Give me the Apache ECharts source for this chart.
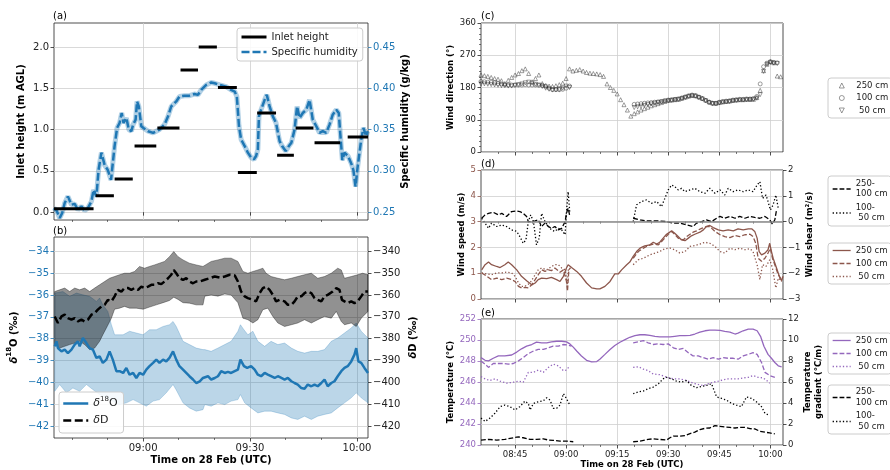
<!DOCTYPE html>
<html>
<head>
<meta charset="utf-8">
<title>Inlet height, isotopes and micrometeorology</title>
<script src="https://cdn.jsdelivr.net/npm/echarts@6.0.0/dist/echarts.min.js"></script>
<style>
  html, body { margin: 0; padding: 0; background: #fff; }
  #chart { width: 890px; height: 470px; }
</style>
</head>
<body>
<div id="chart"></div>
<script>
// time is minutes after 08:00 UTC on 28 Feb
const FONT = 'DejaVu Sans';
const BLUE = '#1f77b4', BROWN = '#8c564b', PURPLE = '#9467bd';
const GRID_LINE = '#cfcfcf';

// ---- (a) inlet height steps and specific humidity
const inletStart  = [35.0, 46.7, 52.0, 57.6, 64.0, 70.5, 75.6, 81.0, 86.6, 92.0, 97.6, 102.8, 108.1, 117.4];
const inletEnd    = [46.1, 51.8, 57.1, 63.7, 70.2, 75.4, 80.7, 86.3, 91.9, 97.3, 102.3, 107.8, 115.3, 123.1];
const inletHeight = [0.04, 0.20, 0.40, 0.80, 1.02, 1.72, 2.00, 1.51, 0.48, 1.20, 0.69, 1.02, 0.84, 0.91];

const qData = [
  [35.0,0.255],[35.7,0.252],[36.6,0.243],[37.3,0.249],[38.0,0.261],[38.9,0.269],[39.9,0.259],[40.8,0.260],
  [41.7,0.253],[42.7,0.257],[43.6,0.252],[44.5,0.255],[45.5,0.263],[46.1,0.277],[46.9,0.269],[47.5,0.301],
  [48.3,0.322],[49.2,0.307],[50.1,0.301],[51.0,0.289],[52.0,0.330],[52.7,0.352],[53.4,0.358],[54.0,0.370],
  [54.5,0.358],[55.3,0.364],[56.0,0.350],[56.7,0.348],[57.2,0.356],[57.9,0.362],[58.3,0.384],[58.8,0.378],
  [59.5,0.354],[60.1,0.352],[61.4,0.348],[62.8,0.346],[63.7,0.348],[64.6,0.350],[66.0,0.356],[67.0,0.366],
  [67.9,0.378],[69.3,0.384],[70.2,0.390],[71.6,0.391],[73.0,0.391],[74.4,0.393],[75.4,0.392],[76.3,0.398],
  [77.7,0.404],[79.1,0.407],[80.1,0.406],[81.5,0.404],[83.3,0.402],[84.7,0.398],[85.7,0.396],[86.3,0.390],
  [86.9,0.354],[87.5,0.338],[88.5,0.330],[89.4,0.322],[90.3,0.316],[91.1,0.314],[91.7,0.318],[92.2,0.326],
  [92.5,0.366],[93.1,0.374],[94.1,0.386],[94.7,0.392],[95.5,0.378],[96.4,0.366],[97.3,0.358],[98.3,0.336],
  [99.0,0.330],[100.0,0.324],[100.9,0.330],[101.6,0.334],[102.5,0.350],[103.2,0.378],[103.9,0.364],[104.8,0.370],
  [105.8,0.374],[106.7,0.386],[107.6,0.362],[108.6,0.354],[109.5,0.346],[110.4,0.348],[111.4,0.346],[112.3,0.356],
  [113.2,0.368],[114.2,0.374],[114.9,0.370],[115.3,0.346],[115.9,0.313],[116.5,0.322],[117.5,0.318],[118.4,0.309],
  [119.0,0.301],[119.6,0.281],[120.2,0.305],[121.2,0.338],[121.8,0.352],[122.6,0.342],[123.0,0.348]
];

// ---- (b) isotopes
const d18O = [
  [35.2,-38.35],[35.7,-38.12],[36.1,-38.43],[37.1,-38.58],[38.0,-38.50],[38.9,-38.66],[39.9,-38.50],[40.8,-38.27],
  [41.7,-38.12],[42.2,-38.35],[43.1,-37.97],[44.1,-38.20],[45.0,-38.43],[45.9,-38.50],[46.9,-38.88],[47.8,-38.81],
  [48.7,-39.11],[49.7,-38.96],[50.6,-38.58],[51.5,-38.96],[52.5,-39.49],[53.4,-39.49],[54.4,-39.57],[55.3,-39.34],
  [56.2,-39.65],[57.2,-39.57],[58.1,-39.80],[59.0,-39.57],[60.0,-39.65],[60.9,-39.42],[61.8,-39.26],[62.8,-39.11],
  [63.7,-38.96],[64.6,-39.11],[65.6,-38.96],[66.5,-39.04],[67.4,-38.88],[68.4,-38.58],[69.3,-38.96],[70.2,-39.26],
  [71.2,-39.42],[72.1,-39.57],[73.0,-39.72],[74.0,-39.87],[74.9,-40.03],[75.9,-39.95],[76.8,-39.80],[78.2,-39.72],
  [79.1,-39.87],[80.1,-39.80],[81.0,-39.72],[81.9,-39.49],[82.9,-39.57],[83.8,-39.52],[84.7,-39.57],[85.7,-39.49],
  [86.6,-39.42],[87.3,-38.96],[88.3,-39.26],[89.2,-39.34],[90.3,-39.26],[91.3,-39.42],[92.2,-39.65],[93.1,-39.72],
  [94.1,-39.57],[95.0,-39.65],[95.9,-39.72],[96.9,-39.80],[97.8,-39.72],[98.8,-39.80],[99.7,-39.87],[100.6,-39.80],
  [101.6,-39.95],[102.5,-40.03],[103.4,-40.10],[104.4,-40.26],[105.3,-40.29],[106.2,-40.10],[107.2,-40.18],[108.1,-40.10],
  [109.0,-40.18],[110.0,-40.03],[110.9,-39.87],[111.8,-40.18],[112.8,-40.03],[113.7,-39.95],[114.6,-39.72],[115.6,-39.49],
  [116.5,-39.34],[117.4,-39.26],[118.4,-39.04],[119.3,-38.73],[119.8,-38.43],[120.4,-39.04],[121.2,-39.11],[122.1,-39.34],
  [123.1,-39.57]
];
const d18OUpper = [
  [35.2,-35.91],[37.5,-35.84],[39.4,-36.06],[41.3,-35.91],[43.1,-35.99],[45.0,-36.06],[46.9,-36.29],[47.8,-36.14],
  [48.7,-36.45],[50.1,-36.75],[51.1,-37.36],[52.0,-37.82],[54.4,-37.82],[56.2,-37.66],[58.1,-37.74],[60.0,-37.82],
  [61.8,-37.59],[63.7,-37.59],[65.6,-37.44],[67.4,-37.36],[68.4,-37.21],[69.3,-37.44],[71.2,-38.12],[73.0,-38.27],
  [74.9,-38.43],[76.8,-38.50],[77.3,-38.50],[79.1,-38.58],[81.0,-38.43],[82.9,-38.27],[84.7,-38.12],[86.6,-37.66],
  [87.3,-37.36],[88.3,-37.59],[89.4,-37.82],[90.8,-37.66],[92.2,-38.12],[94.1,-38.35],[95.9,-38.12],[97.8,-38.27],
  [99.7,-38.20],[101.6,-38.43],[103.4,-38.58],[105.3,-38.66],[107.2,-38.58],[109.0,-38.58],[110.9,-38.50],[112.8,-38.12],
  [114.6,-37.97],[116.5,-37.74],[118.4,-37.51],[119.8,-37.28],[121.2,-37.66],[123.1,-37.97]
];
const d18OLower = [
  [35.2,-40.41],[36.6,-40.10],[38.5,-40.48],[40.3,-40.26],[42.2,-40.41],[44.1,-40.10],[45.9,-40.33],[47.8,-40.56],
  [49.7,-40.71],[51.5,-40.86],[53.4,-41.02],[55.3,-40.94],[57.2,-40.79],[59.0,-40.94],[60.9,-41.09],[62.8,-40.86],
  [64.6,-40.79],[66.5,-40.48],[68.4,-40.10],[69.3,-40.35],[71.2,-40.94],[73.0,-41.17],[74.9,-41.32],[76.8,-41.25],
  [77.3,-41.02],[79.1,-41.09],[81.0,-40.94],[82.9,-41.02],[84.7,-40.86],[86.6,-40.79],[87.3,-40.56],[88.5,-40.94],
  [90.3,-41.17],[92.2,-41.40],[94.1,-41.32],[95.9,-41.32],[97.8,-41.40],[99.7,-41.47],[101.6,-41.63],[103.4,-41.70],
  [105.3,-41.55],[107.2,-41.70],[109.0,-41.55],[110.9,-41.47],[112.8,-41.40],[114.6,-41.17],[116.5,-40.94],[118.4,-40.71],
  [119.8,-40.48],[121.2,-40.71],[123.1,-40.94]
];
const dD = [
  [35.2,-369.8],[36.1,-372.8],[37.1,-369.8],[38.0,-369.0],[38.9,-370.6],[39.9,-371.3],[40.8,-370.6],[41.7,-372.1],
  [42.7,-371.3],[43.6,-372.1],[44.5,-371.3],[45.5,-369.0],[46.4,-368.3],[47.3,-366.7],[48.3,-365.2],[49.2,-364.5],
  [50.1,-362.2],[51.1,-362.9],[52.0,-360.6],[52.9,-357.6],[53.9,-358.4],[54.8,-356.8],[55.8,-356.8],[56.7,-357.6],
  [57.6,-356.8],[58.6,-357.6],[59.5,-356.1],[60.4,-356.8],[61.4,-356.1],[62.3,-355.3],[63.2,-355.3],[64.2,-354.6],
  [65.1,-355.0],[66.0,-353.8],[67.0,-352.3],[67.9,-350.7],[68.6,-348.5],[69.3,-350.0],[70.2,-352.3],[71.2,-353.0],
  [72.1,-352.3],[73.0,-353.8],[74.0,-354.6],[74.9,-353.8],[75.9,-353.8],[77.3,-353.0],[78.7,-352.3],[80.1,-351.5],
  [81.5,-352.0],[82.9,-351.5],[84.3,-350.7],[85.7,-351.0],[86.6,-353.8],[87.5,-358.4],[88.5,-360.6],[89.4,-361.4],
  [90.8,-362.2],[91.7,-362.9],[92.7,-359.1],[93.6,-356.8],[94.5,-356.1],[95.5,-357.6],[96.4,-359.9],[97.3,-362.9],
  [98.3,-362.2],[99.7,-362.9],[100.6,-364.5],[101.6,-364.5],[102.5,-362.9],[103.4,-360.6],[104.4,-360.6],[105.3,-359.1],
  [106.2,-358.4],[107.2,-359.1],[108.1,-361.4],[109.0,-362.2],[110.0,-362.9],[110.9,-360.6],[111.8,-359.9],[113.2,-358.4],
  [114.2,-356.8],[115.1,-357.6],[115.8,-362.2],[116.5,-362.9],[117.4,-363.7],[118.4,-362.9],[119.3,-363.7],[120.2,-362.9],
  [121.2,-360.6],[122.1,-358.4],[123.1,-358.4]
];
const dDUpper = [
  [35.2,-358.4],[36.6,-357.6],[38.0,-356.8],[39.4,-358.4],[40.8,-356.8],[42.2,-357.6],[43.6,-356.8],[45.0,-358.4],
  [46.4,-356.8],[47.8,-355.3],[49.2,-353.8],[50.6,-352.3],[52.0,-351.5],[53.4,-350.7],[54.8,-350.0],[56.2,-350.0],
  [57.6,-349.2],[59.0,-346.9],[60.4,-347.7],[61.8,-346.9],[63.2,-346.2],[64.6,-345.4],[66.0,-344.6],[67.4,-342.4],
  [68.6,-340.1],[69.8,-342.4],[71.2,-343.9],[73.0,-345.4],[74.9,-346.2],[76.8,-346.9],[79.1,-344.6],[81.0,-343.9],
  [82.9,-343.1],[84.7,-343.1],[86.6,-344.6],[88.0,-349.2],[89.4,-350.0],[90.8,-349.2],[92.2,-348.5],[93.6,-347.7],
  [94.5,-350.0],[95.9,-351.5],[97.8,-352.3],[99.7,-353.0],[101.6,-352.3],[103.4,-351.5],[105.3,-350.7],[107.2,-350.0],
  [109.0,-352.3],[110.9,-351.5],[112.8,-350.0],[114.6,-347.7],[115.6,-348.5],[116.5,-352.3],[118.4,-351.5],[120.2,-350.7],
  [121.6,-350.0],[123.1,-350.7]
];
const dDLower = [
  [35.2,-382.7],[36.6,-384.3],[38.0,-383.5],[39.4,-382.7],[40.8,-382.0],[42.2,-381.2],[43.6,-382.7],[45.0,-385.0],
  [46.4,-384.3],[47.8,-381.2],[48.7,-378.2],[49.7,-375.1],[51.1,-370.6],[52.0,-366.5],[53.4,-366.0],[54.8,-365.2],
  [56.2,-366.0],[58.1,-366.0],[60.0,-366.5],[61.8,-365.5],[63.7,-364.5],[65.6,-363.5],[67.4,-362.5],[68.6,-361.0],
  [69.8,-362.0],[71.2,-363.5],[73.0,-363.7],[74.9,-364.5],[76.8,-364.5],[77.3,-360.5],[79.1,-360.0],[81.0,-360.5],
  [82.9,-359.5],[84.7,-360.0],[86.6,-363.5],[88.0,-370.6],[89.4,-371.3],[90.8,-372.8],[92.2,-371.3],[93.6,-366.7],
  [95.0,-366.0],[96.4,-369.8],[97.8,-372.8],[99.7,-374.4],[101.6,-373.6],[103.4,-372.8],[105.3,-371.3],[107.2,-372.8],
  [109.0,-371.3],[110.9,-369.8],[112.8,-370.6],[114.2,-367.5],[115.6,-372.1],[116.5,-373.6],[118.4,-372.8],[119.8,-374.4],
  [121.2,-370.6],[123.1,-367.5]
];

// ---- (c) wind direction, one value per minute from 08:35
const dirTimes = [
  35,36,37,38,39,40,41,42,43,44, 45,46,47,48,49,50,51,52,53,54, 55,56,57,58,59,60,61,62,63,64,
  65,66,67,68,69,70,71,72,73,74, 75,76,77,78,79,80,81,82,83,84, 85,86,87,88,89,90,91,92,93,94,
  95,96,97,98,99,100,101,102,103,104, 105,106,107,108,109,110,111,112,113,114, 115,116,117,118,119,120,121,122,123
];
const dir250 = [
  215,213,211,208,205,203,199,191,200,208, 215,219,227,232,219,196,205,215,191,185, 184,183,185,188,192,205,232,226,228,230,
  226,222,220,219,218,216,211,190,180,172, 162,146,132,117,100,107,112,117,121,125, 129,132,135,138,141,144,145,146,147,150,
  153,156,158,157,154,150,145,140,137,136, 138,140,141,142,144,145,146,146,147,147, 147,152,172,227,245,252,249,212,210
];
const dir100 = [
  197,196,195,194,193,191,190,188,187,187, 187,187,187,188,187,187,187,186,186,184, 178,174,174,174,175,178,184,null,null,null,
  null,null,null,null,null,null,null,null,null,null, null,null,null,null,null,133,134,135,136,137, 138,139,140,141,143,145,146,147,148,151,
  154,157,159,157,153,149,144,139,136,136, 139,141,142,143,145,146,147,147,148,148, 149,155,190,238,248,252,250,249,null
];
const dir50 = [
  190,190,189,188,187,186,185,185,184,184, 186,188,190,193,195,192,189,187,183,178, 175,173,173,174,178,184,180,null,null,null,
  null,null,null,null,null,null,null,null,null,null, null,null,null,null,null,124,126,128,130,132, 134,136,138,140,142,143,144,146,147,149,
  152,155,157,156,152,148,143,138,135,135, 137,139,140,141,143,144,145,145,146,146, 147,150,160,225,245,250,248,247,null
];

// ---- (d) wind speed (m/s) and wind shear (m2/s); null marks the data gap
const ws250 = [
  [35.2,1.13],[36.2,1.33],[37.2,1.43],[38.1,1.33],[39.6,1.26],[40.6,1.22],[42.0,1.33],[43.0,1.43],[44.0,1.33],[45.5,1.13],
  [46.9,0.88],[48.4,0.71],[49.9,0.55],[50.9,0.62],[51.8,0.75],[52.8,0.81],[54.3,0.79],[55.7,0.84],[57.2,0.75],[58.2,0.68],
  [59.2,0.88],[60.1,1.20],[60.6,1.33],[61.6,1.22],[63.1,1.07],[64.5,0.88],[66.0,0.62],[67.5,0.43],[69.0,0.39],[69.9,0.39],
  [71.4,0.49],[72.9,0.68],[74.3,0.97],[75.3,0.97],[76.3,1.13],[77.8,1.33],[78.7,1.43],[79.7,1.65],[80.7,1.84],[81.7,1.97],
  [83.1,2.06],[84.6,2.10],[85.6,2.20],[86.6,2.13],[87.5,2.20],[88.5,2.36],[89.5,2.51],[91.0,2.64],[91.9,2.55],[92.9,2.42],
  [93.9,2.29],[94.9,2.26],[95.9,2.36],[96.8,2.45],[97.8,2.51],[99.3,2.59],[100.3,2.68],[101.2,2.81],[102.2,2.85],[103.2,2.77],
  [104.7,2.68],[106.1,2.64],[107.6,2.68],[109.1,2.64],[110.5,2.72],[112.0,2.68],[113.5,2.72],[114.5,2.72],[115.4,2.62],[116.1,2.36],
  [116.7,1.84],[117.4,1.71],[118.4,1.78],[119.3,1.91],[119.8,2.16],[120.3,1.84],[120.8,1.58],[121.8,1.20],[122.8,0.81],[123.3,0.71],
  [123.7,0.88]
];
const ws100 = [
  [35.2,1.01],[36.7,0.88],[38.1,0.75],[39.6,0.81],[41.1,0.75],[42.5,0.81],[44.0,0.75],[45.0,0.68],[46.0,0.49],[46.9,0.43],
  [47.9,0.45],[48.9,0.43],[49.9,0.55],[50.9,0.75],[51.8,0.94],[52.8,1.13],[53.8,1.07],[54.8,1.13],[55.7,1.10],[56.7,1.20],
  [57.2,1.13],[58.2,1.04],[59.2,1.13],[60.1,0.68],[60.4,0.30],[60.8,1.13],[61.3,1.22],[70,null],
  [79.7,1.58],[81.2,1.84],[82.7,1.97],[84.1,2.07],[85.6,2.13],[87.1,2.10],[88.5,2.29],[90.0,2.51],[91.0,2.62],[91.9,2.51],
  [92.9,2.36],[94.4,2.29],[95.4,2.42],[96.4,2.51],[97.3,2.59],[98.3,2.64],[99.8,2.74],[101.2,2.81],[102.2,2.81],[103.7,2.62],
  [105.2,2.49],[106.6,2.42],[108.1,2.38],[109.6,2.46],[111.0,2.42],[112.5,2.49],[114.0,2.51],[114.9,2.42],[115.7,2.16],[116.4,1.58],
  [117.4,1.46],[118.4,1.58],[119.3,1.78],[120.0,1.97],[120.6,1.58],[121.3,1.33],[122.3,0.94],[123.3,0.75]
];
const ws50 = [
  [35.2,1.01],[36.7,0.97],[38.1,0.94],[39.6,1.01],[41.1,1.01],[42.5,1.04],[44.0,1.01],[45.0,0.88],[46.0,0.62],[46.9,0.49],
  [47.9,0.49],[49.4,0.62],[50.9,0.94],[51.8,1.13],[52.8,1.20],[54.3,1.13],[55.7,1.26],[56.7,1.33],[57.7,1.33],[58.7,1.20],
  [59.7,1.13],[60.3,0.55],[60.7,1.20],[70,null],
  [79.7,1.33],[81.2,1.52],[82.7,1.58],[84.6,1.71],[86.1,1.78],[87.5,1.84],[89.0,1.95],[90.5,1.97],[91.9,1.91],[93.4,1.78],
  [94.9,1.84],[96.4,2.04],[97.8,2.07],[99.3,2.13],[100.8,2.20],[102.2,2.16],[103.7,2.04],[105.2,1.84],[106.6,1.78],[108.1,1.97],
  [109.6,1.91],[111.0,1.97],[112.5,1.91],[114.0,1.95],[114.9,1.84],[116.1,1.33],[116.9,0.75],[117.7,1.33],[118.7,1.26],[119.8,1.52],
  [120.6,1.20],[121.6,0.43],[122.3,0.81],[123.3,0.68]
];
const shear250to100 = [
  [35.2,0.13],[36.2,0.26],[37.2,0.32],[38.6,0.36],[40.1,0.26],[41.1,0.32],[42.5,0.20],[44.0,0.39],[45.5,0.41],[46.4,0.39],
  [47.4,0.32],[48.4,0.20],[48.9,0.00],[49.9,0.00],[50.9,0.03],[51.8,0.07],[52.8,-0.19],[53.8,-0.06],[54.8,-0.19],[55.7,-0.26],
  [56.7,-0.19],[57.7,-0.32],[58.7,-0.26],[59.7,0.00],[60.1,0.32],[60.6,0.52],[61.1,0.20],[70,null],
  [79.7,0.13],[81.7,0.07],[83.6,0.03],[86.6,0.03],[89.5,0.00],[91.5,-0.06],[93.4,-0.06],[95.4,-0.13],[97.3,-0.19],[98.3,-0.06],
  [99.8,0.00],[101.2,0.07],[102.7,0.00],[104.2,0.13],[105.2,0.20],[106.6,0.13],[108.1,0.20],[109.6,0.13],[111.0,0.20],[112.5,0.13],
  [114.0,0.20],[115.4,0.16],[116.9,0.13],[118.4,0.20],[119.8,0.07],[120.6,-0.10],[121.3,0.07],[121.8,0.45]
];
const shear100to50 = [
  [35.2,0.13],[36.2,-0.06],[37.2,-0.26],[38.1,-0.06],[39.6,-0.19],[41.1,-0.13],[42.5,-0.19],[44.0,-0.32],[45.5,-0.38],[46.4,-0.58],
  [47.4,-0.84],[48.2,-0.71],[48.9,0.00],[49.6,0.26],[50.4,0.00],[51.3,-0.90],[52.1,-0.64],[52.8,0.32],[53.8,0.00],[54.8,-0.19],
  [55.7,-0.32],[56.7,-0.38],[57.7,-0.26],[58.7,-0.32],[59.7,-0.51],[60.1,0.39],[60.6,1.16],[61.1,0.32],[70,null],
  [79.7,0.00],[80.7,0.65],[82.2,0.78],[83.6,0.84],[85.1,0.71],[86.6,0.78],[88.0,0.58],[89.0,0.90],[90.0,1.23],[91.0,1.42],
  [91.9,1.36],[92.9,1.23],[93.9,1.29],[94.9,1.16],[96.4,1.23],[97.8,1.29],[99.3,1.16],[100.8,1.10],[102.2,1.29],[103.7,1.10],
  [105.2,1.23],[106.6,1.03],[107.6,1.29],[109.1,1.16],[110.5,1.23],[112.0,1.16],[113.5,1.23],[114.9,1.16],[116.1,1.42],[116.9,1.55],
  [117.7,0.90],[118.7,1.03],[119.3,0.78],[120.0,0.45],[120.8,0.65],[121.6,1.03],[122.3,0.52]
];

// ---- (e) temperature and temperature gradient
const t250 = [
  [35.0,248.32],[36.2,248.07],[37.2,248.01],[38.6,248.26],[40.1,248.48],[42.0,248.48],[44.0,248.57],[45.5,248.85],[46.9,249.16],[48.4,249.41],
  [49.9,249.57],[51.3,249.79],[52.8,249.73],[54.3,249.73],[55.7,249.82],[57.2,249.88],[58.7,249.88],[60.1,249.82],[61.1,249.63],[62.1,249.32],
  [63.1,248.95],[64.5,248.48],[66.0,248.07],[67.5,247.92],[69.0,247.95],[69.9,248.17],[71.4,248.63],[72.9,249.10],[74.3,249.48],[75.8,249.79],
  [77.3,250.04],[78.7,250.26],[80.2,250.41],[81.7,250.50],[83.1,250.50],[84.6,250.44],[86.1,250.35],[87.5,250.29],[89.0,250.29],[90.5,250.29],
  [91.9,250.35],[93.4,250.41],[94.9,250.41],[96.4,250.44],[97.8,250.57],[99.3,250.75],[100.8,250.88],[102.2,250.94],[103.7,250.94],[105.2,250.91],
  [106.6,250.82],[108.1,250.75],[109.6,250.57],[110.5,250.66],[112.0,250.88],[113.5,251.03],[114.9,251.03],[116.1,250.88],[117.1,250.35],[118.1,249.41],
  [119.3,248.63],[120.3,248.26],[121.3,247.86],[122.3,247.54],[123.3,247.45]
];
const t100 = [
  [35.0,248.01],[36.2,247.70],[37.2,247.39],[38.6,247.76],[40.1,247.76],[41.6,247.76],[43.0,247.70],[44.5,247.76],[46.0,248.01],[47.4,248.32],
  [48.9,248.70],[50.4,248.95],[51.8,249.10],[53.3,249.10],[54.8,249.26],[56.2,249.41],[57.7,249.41],[59.2,249.57],[60.6,249.51],[61.6,249.41],[70,null],
  [79.7,249.73],[81.2,249.82],[82.7,249.94],[84.1,249.73],[85.6,249.57],[87.1,249.63],[88.5,249.57],[90.0,249.63],[91.5,249.26],[92.9,249.10],
  [94.4,249.20],[95.9,248.79],[97.3,248.48],[98.8,248.48],[100.3,248.32],[101.7,248.17],[103.2,248.32],[104.7,248.17],[106.1,248.32],[107.6,248.26],
  [109.1,248.26],[110.5,248.17],[112.0,248.48],[113.5,248.63],[114.9,248.79],[116.1,248.63],[117.4,247.86],[118.4,246.92],[119.8,246.61],[121.3,246.45]
];
const t50 = [
  [35.0,246.51],[36.2,246.30],[37.6,246.14],[39.1,246.30],[40.6,246.08],[42.5,245.89],[44.5,245.98],[46.0,246.08],[47.4,245.98],[48.9,246.92],
  [50.4,246.92],[51.8,247.14],[53.3,246.92],[54.8,247.39],[56.2,247.70],[57.7,247.54],[59.2,247.08],[60.1,247.14],[61.1,247.54],[70,null],
  [79.7,247.39],[81.2,247.45],[82.7,247.23],[84.1,247.08],[85.6,246.76],[87.5,246.70],[89.5,246.45],[91.5,246.30],[93.4,246.30],[95.4,246.14],
  [97.3,245.89],[98.8,245.77],[100.3,245.67],[101.7,245.83],[103.2,245.98],[104.7,246.08],[106.1,246.20],[107.6,246.30],[109.1,246.30],[110.5,246.30],
  [112.0,246.39],[113.5,246.45],[114.9,246.61],[116.4,246.45],[117.9,246.39],[118.9,246.14],[119.8,245.89]
];
const grad250to100 = [
  [35.0,0.47],[37.2,0.53],[39.6,0.47],[42.0,0.53],[44.5,0.69],[46.0,0.78],[47.4,0.69],[49.4,0.53],[51.3,0.53],[53.3,0.59],
  [54.8,0.47],[56.2,0.44],[58.2,0.37],[60.1,0.37],[62.1,0.31],[70,null],
  [79.7,0.31],[81.7,0.37],[84.1,0.53],[85.6,0.59],[87.5,0.53],[89.5,0.47],[90.5,0.69],[91.5,0.84],[93.4,0.84],[94.9,0.90],
  [96.4,1.09],[97.8,1.22],[99.3,1.47],[100.8,1.59],[102.2,1.62],[103.7,1.84],[105.2,1.78],[106.6,1.71],[108.1,1.68],[109.6,1.62],
  [111.0,1.68],[112.5,1.68],[114.0,1.56],[115.4,1.53],[116.9,1.31],[118.4,1.22],[119.8,1.15],[121.3,1.06]
];
const grad100to50 = [
  [35.0,2.56],[36.2,2.24],[37.6,2.56],[39.1,3.02],[40.6,3.65],[42.0,3.80],[43.5,3.65],[45.0,3.34],[46.4,3.65],[47.9,4.18],
  [48.9,3.96],[49.4,3.34],[50.4,3.96],[51.8,4.11],[53.3,4.21],[54.3,4.49],[55.3,4.27],[56.2,3.49],[57.2,3.49],[58.2,3.80],
  [59.2,4.89],[60.1,4.43],[61.1,3.80],[70,null],
  [79.7,4.89],[81.2,5.05],[82.7,5.14],[84.1,5.36],[85.6,5.52],[87.1,5.83],[88.5,6.30],[89.5,6.45],[91.0,6.30],[92.4,6.08],
  [93.9,5.99],[95.4,6.14],[96.8,5.67],[98.3,5.46],[99.8,5.58],[101.2,5.67],[102.7,5.83],[104.2,4.58],[105.7,4.43],[107.1,4.27],
  [108.6,3.96],[110.0,3.80],[111.5,3.65],[113.0,4.58],[114.5,4.43],[115.9,4.11],[117.4,3.65],[118.4,3.02],[119.3,2.87]
];

// ---- tick positions (minutes after 08:00)
const leftMajor = [60, 90, 120];
const leftMinor = [40, 50, 70, 80, 100, 110];
const rightMajor = [45, 60, 75, 90, 105, 120];
const rightMinor = [40, 50, 55, 65, 70, 80, 85, 95, 100, 110, 115];

const legendText = {
  inlet: 'Inlet height', q: 'Specific humidity',
  d18O: '{i|δ}{s|18}{t|O}', dD: '{i|δ}{t|D}',
  c250: '250 cm', c100: '100 cm', c50: ' 50 cm',
  d250: '250 cm', d100: '100 cm', d50: ' 50 cm',
  e250: '250 cm', e100: '100 cm', e50: ' 50 cm',
  dS1: '250-\n100 cm', dS2: '100-\n 50 cm',
  eG1: '250-\n100 cm', eG2: '100-\n 50 cm'
};

function hhmm(m) {
  const h = 8 + Math.floor(m / 60), mm = Math.round(m % 60);
  return (h < 10 ? '0' : '') + h + ':' + (mm < 10 ? '0' : '') + mm;
}
function signed(v, d) {
  const s = Math.abs(v).toFixed(d);
  return v < 0 ? '\u2212' + s : s;
}
function gaps(arr) {
  return arr.map(p => p[1] === null ? [p[0], '-'] : p);
}

const inletData = [];
inletHeight.forEach((h, i) => {
  inletData.push([inletStart[i], h], [inletEnd[i], h], [inletEnd[i], '-']);
});

function xMain(grid, max, major, showLabels, fs, name, nameGap) {
  return {
    type: 'value', gridIndex: grid, min: 35, max: max, position: 'bottom',
    axisLine: { show: false },
    axisTick: { show: true, customValues: major, length: 3.5, lineStyle: { color: '#222', width: 0.8 } },
    axisLabel: { show: showLabels, customValues: major, formatter: hhmm, color: '#222', fontSize: fs, fontFamily: FONT, margin: 5 },
    splitLine: { show: true, lineStyle: { color: GRID_LINE, width: 0.8 } },
    name: name || '', nameLocation: 'middle', nameGap: nameGap || 0,
    nameTextStyle: { fontFamily: FONT, fontWeight: 'bold', fontSize: fs, color: '#000' }
  };
}
function xMinor(grid, max, minor) {
  return {
    type: 'value', gridIndex: grid, min: 35, max: max, position: 'bottom',
    axisLine: { show: false },
    axisTick: { show: true, customValues: minor, length: 2, lineStyle: { color: '#222', width: 0.6 } },
    axisLabel: { show: false }, splitLine: { show: false }
  };
}
function yAxis(o) {
  const color = o.color || '#222';
  return {
    type: 'value', gridIndex: o.grid, position: o.pos, min: o.min, max: o.max, interval: o.interval,
    axisLine: { show: false },
    axisTick: { show: true, customValues: o.ticks, length: 3.5, lineStyle: { color: color, width: 0.8 } },
    minorTick: o.minor ? { show: true, splitNumber: o.minor, length: 2, lineStyle: { color: '#222', width: 0.6 } } : { show: false },
    axisLabel: { customValues: o.ticks, formatter: o.fmt, color: color, fontSize: o.fs, fontFamily: FONT, margin: 5 },
    splitLine: { show: !!o.split, lineStyle: { color: GRID_LINE, width: 0.8 } },
    name: o.name, nameLocation: 'middle', nameGap: o.gap,
    nameTextStyle: Object.assign({ fontFamily: FONT, fontWeight: 'bold', fontSize: o.fs, color: '#000', lineHeight: o.fs + 2 }, o.nameStyle || {})
  };
}
function line(name, x, y, data, color, width, type, z) {
  return {
    name: name, type: 'line', xAxisIndex: x, yAxisIndex: y, data: data,
    symbol: 'none', connectNulls: false, z: z || 3, silent: true,
    lineStyle: { color: color, width: width, type: type || 'solid' }, itemStyle: { color: color }
  };
}
function scatter(name, symbol, values) {
  const data = [];
  dirTimes.forEach((t, i) => { if (values[i] !== null) data.push([t, values[i]]); });
  return {
    name: name, type: 'scatter', xAxisIndex: 2, yAxisIndex: 4, data: data, symbol: symbol, symbolSize: 4, silent: true,
    itemStyle: { color: 'rgba(255,255,255,0)', borderColor: '#333', borderWidth: 0.6 }
  };
}
function band(upper, lower, x, y, fill, z) {
  return {
    type: 'custom', xAxisIndex: x, yAxisIndex: y, silent: true, z: z,
    data: [upper[0]],
    renderItem: function (params, api) {
      if (params.dataIndex !== 0) return;
      const pts = upper.map(p => api.coord(p)).concat(lower.slice().reverse().map(p => api.coord(p)));
      return { type: 'polygon', shape: { points: pts }, style: { fill: fill, stroke: fill, lineWidth: 0.8 } };
    }
  };
}
function legendBox(names, left, top, extra) {
  return Object.assign({
    data: names, left: left, top: top, orient: 'vertical', selectedMode: false,
    backgroundColor: 'rgba(255,255,255,0.85)', borderColor: '#cccccc', borderWidth: 1, borderRadius: 3,
    padding: [2, 4, 2, 4], itemGap: 2, itemWidth: 18, itemHeight: 6,
    formatter: n => legendText[n],
    lineStyle: { width: 1.3 },
    itemStyle: { opacity: 0 },
    textStyle: { fontFamily: FONT, fontSize: 8.5, color: '#222', lineHeight: 11 }
  }, extra || {});
}

const chart = echarts.init(document.getElementById('chart'), null, { renderer: 'canvas' });

chart.setOption({
  animation: false,
  backgroundColor: '#ffffff',
  textStyle: { fontFamily: FONT },
  title: [
    { text: '(a)', left: 53, top: 11 },
    { text: '(b)', left: 53, top: 226 },
    { text: '(c)', left: 481, top: 11 },
    { text: '(d)', left: 481, top: 159 },
    { text: '(e)', left: 481, top: 308 }
  ].map(t => Object.assign(t, { padding: 0, textStyle: { fontFamily: FONT, fontSize: 10, fontWeight: 'normal', color: '#000' } })),
  grid: [
    { left: 54, top: 23, width: 314, height: 197 },
    { left: 54, top: 237, width: 314, height: 201 },
    { left: 481, top: 23, width: 302, height: 129 },
    { left: 481, top: 170, width: 302, height: 129 },
    { left: 481, top: 319, width: 302, height: 128 }
  ].map(g => Object.assign(g, { show: true, borderColor: '#222', borderWidth: 0.8, backgroundColor: 'transparent' })),
  legend: [
    legendBox([{ name: 'inlet', lineStyle: { width: 3 } }, { name: 'q', lineStyle: { width: 2.5 } }], 237, 28, {
      padding: [3, 5, 3, 3], itemGap: 3, itemWidth: 25, itemHeight: 8, lineStyle: {},
      textStyle: { fontFamily: FONT, fontSize: 10, color: '#222', lineHeight: 12 }
    }),
    legendBox([{ name: 'd18O', lineStyle: { width: 2.5 } }, { name: 'dD', lineStyle: { width: 2.5 } }], 59, 392, {
      padding: [4, 6, 5, 3], itemGap: 2, itemWidth: 25, itemHeight: 8, lineStyle: {},
      textStyle: {
        fontFamily: FONT, fontSize: 11, color: '#222', lineHeight: 15,
        rich: {
          i: { fontFamily: FONT, fontSize: 11, fontStyle: 'italic', lineHeight: 15, color: '#222' },
          s: { fontFamily: FONT, fontSize: 7, lineHeight: 8, verticalAlign: 'top', color: '#222' },
          t: { fontFamily: FONT, fontSize: 11, lineHeight: 15, color: '#222' }
        }
      }
    }),
    legendBox(['c250', 'c100', 'c50'], 828, 78, {
      padding: [2, 4, 2, 11], itemGap: 1.5, itemWidth: 5, itemHeight: 5,
      itemStyle: { borderWidth: 0.6, borderColor: '#555', opacity: 1 },
      textStyle: { fontFamily: FONT, fontSize: 8.5, color: '#222', lineHeight: 11, padding: [0, 0, 0, 7] }
    }),
    legendBox(['dS1', 'dS2'], 828, 176, {
      padding: [3, 4, 3, 4], itemGap: 4,
      textStyle: { fontFamily: FONT, fontSize: 8.5, color: '#222', lineHeight: 10 }
    }),
    legendBox(['d250', 'd100', 'd50'], 828, 243),
    legendBox(['e250', 'e100', 'e50'], 828, 333),
    legendBox(['eG1', 'eG2'], 828, 385, {
      padding: [2, 4, 2, 4], itemGap: 3,
      textStyle: { fontFamily: FONT, fontSize: 8.5, color: '#222', lineHeight: 10.5 }
    })
  ],
  xAxis: [
    xMain(0, 123.1, leftMajor, false, 10),
    xMain(1, 123.1, leftMajor, true, 10, 'Time on 28 Feb (UTC)', 17),
    xMain(2, 123.7, rightMajor, false, 8.5),
    xMain(3, 123.7, rightMajor, false, 8.5),
    xMain(4, 123.7, rightMajor, true, 8.5, 'Time on 28 Feb (UTC)', 15),
    xMinor(0, 123.1, leftMinor),
    xMinor(1, 123.1, leftMinor),
    xMinor(2, 123.7, rightMinor),
    xMinor(3, 123.7, rightMinor),
    xMinor(4, 123.7, rightMinor)
  ],
  yAxis: [
    yAxis({ grid: 0, pos: 'left', min: -0.095, max: 2.29, ticks: [0, 0.5, 1, 1.5, 2], fmt: v => v.toFixed(1), fs: 10,
            split: true, name: 'Inlet height (m AGL)', gap: 27 }),
    yAxis({ grid: 0, pos: 'right', min: 0.2405, max: 0.479, ticks: [0.25, 0.3, 0.35, 0.4, 0.45], fmt: v => v.toFixed(2), fs: 10,
            color: BLUE, name: 'Specific humidity (g/kg)', gap: 31 }),
    yAxis({ grid: 1, pos: 'left', min: -42.55, max: -33.34, ticks: [-42, -41, -40, -39, -38, -37, -36, -35, -34], fmt: v => signed(v, 0), fs: 10,
            color: BLUE, split: true, name: '{i|δ}{s|18}{b|O (‰)}', gap: 32,
            nameStyle: { rich: {
              i: { fontFamily: FONT, fontSize: 10, fontStyle: 'italic', lineHeight: 16, color: '#000' },
              s: { fontFamily: FONT, fontSize: 7, lineHeight: 8, verticalAlign: 'top', color: '#000' },
              b: { fontFamily: FONT, fontSize: 10, fontWeight: 'bold', lineHeight: 16, color: '#000' }
            } } }),
    yAxis({ grid: 1, pos: 'right', min: -425.5, max: -333.4, ticks: [-420, -410, -400, -390, -380, -370, -360, -350, -340], fmt: v => signed(v, 0), fs: 10,
            name: '{i|δ}{b|D (‰)}', gap: 39,
            nameStyle: { rich: {
              i: { fontFamily: FONT, fontSize: 10, fontStyle: 'italic', color: '#000' },
              b: { fontFamily: FONT, fontSize: 10, fontWeight: 'bold', color: '#000' }
            } } }),
    yAxis({ grid: 2, pos: 'left', min: 0, max: 360, interval: 90, fmt: v => String(v), fs: 8.5, minor: 6,
            split: true, name: 'Wind direction (°)', gap: 25 }),
    yAxis({ grid: 3, pos: 'left', min: 0, max: 5, interval: 1, fmt: v => String(v), fs: 8.5,
            color: BROWN, split: true, name: 'Wind speed (m/s)', gap: 13 }),
    yAxis({ grid: 3, pos: 'right', min: -3, max: 2, interval: 1, fmt: v => signed(v, 0), fs: 8.5,
            name: 'Wind shear (m²/s)', gap: 22 }),
    yAxis({ grid: 4, pos: 'left', min: 240, max: 252, interval: 2, fmt: v => String(v), fs: 8.5,
            color: PURPLE, split: true, name: 'Temperature (°C)', gap: 25 }),
    yAxis({ grid: 4, pos: 'right', min: 0, max: 12, interval: 2, fmt: v => String(v), fs: 8.5,
            name: 'Temperature\ngradient (°C/m)', gap: 18 })
  ],
  series: [
    // (a)
    line('qBand', 0, 1, qData, 'rgba(31,119,180,0.35)', 5, 'solid', 2),
    line('q', 0, 1, qData, BLUE, 2.5, [8, 3], 3),
    line('inlet', 0, 0, inletData, '#000', 3, 'solid', 4),
    // (b)
    band(d18OUpper, d18OLower, 1, 2, 'rgba(31,119,180,0.3)', 1),
    band(dDUpper, dDLower, 1, 3, 'rgba(0,0,0,0.43)', 2),
    line('d18O', 1, 2, d18O, BLUE, 2.5, 'solid', 5),
    line('dD', 1, 3, dD, '#000', 2.5, [8, 3.5], 6),
    // (c)
    scatter('c250', 'triangle', dir250),
    scatter('c100', 'circle', dir100),
    scatter('c50', 'path://M0,0 L10,0 L5,10 Z', dir50),
    // (d)
    Object.assign(line('dS1', 3, 6, gaps(shear250to100), '#000', 1.3, [4.8, 2.1], 4), {
      markLine: { silent: true, symbol: 'none', label: { show: false }, data: [{ yAxis: 0 }],
                  lineStyle: { color: '#8a8a8a', width: 1.6, type: 'solid' } }
    }),
    line('dS2', 3, 6, gaps(shear100to50), '#000', 1.3, [1.3, 2.1], 4),
    line('d250', 3, 5, ws250, BROWN, 1.3, 'solid', 3),
    line('d100', 3, 5, gaps(ws100), BROWN, 1.3, [4.8, 2.1], 3),
    line('d50', 3, 5, gaps(ws50), BROWN, 1.3, [1.3, 2.1], 3),
    // (e)
    line('e250', 4, 7, t250, PURPLE, 1.3, 'solid', 3),
    line('e100', 4, 7, gaps(t100), PURPLE, 1.3, [4.8, 2.1], 3),
    line('e50', 4, 7, gaps(t50), PURPLE, 1.3, [1.3, 2.1], 3),
    line('eG1', 4, 8, gaps(grad250to100), '#000', 1.3, [4.8, 2.1], 4),
    line('eG2', 4, 8, gaps(grad100to50), '#000', 1.3, [1.3, 2.1], 4)
  ]
});
</script>
</body>
</html>
